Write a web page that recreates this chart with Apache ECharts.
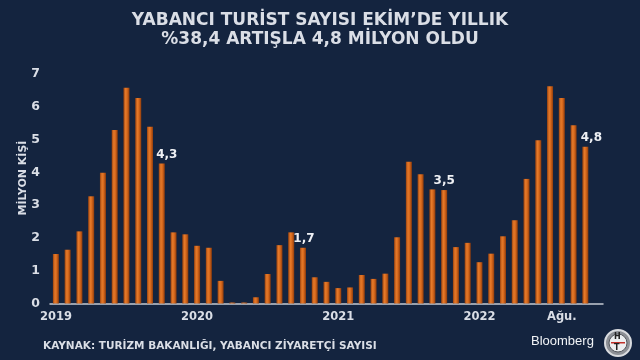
<!DOCTYPE html>
<html><head><meta charset="utf-8">
<script src="https://cdn.jsdelivr.net/npm/echarts@6/dist/echarts.min.js"></script>
<style>html,body{margin:0;padding:0;background:#14243f;}#c{width:640px;height:360px;}</style>
</head><body><div id="c"></div>
<script>
// Monthly categories Jan 2019 .. Oct 2022 (+ one empty slot)
const months = [
 '2019-01','2019-02','2019-03','2019-04','2019-05','2019-06','2019-07','2019-08','2019-09','2019-10','2019-11','2019-12',
 '2020-01','2020-02','2020-03','2020-04','2020-05','2020-06','2020-07','2020-08','2020-09','2020-10','2020-11','2020-12',
 '2021-01','2021-02','2021-03','2021-04','2021-05','2021-06','2021-07','2021-08','2021-09','2021-10','2021-11','2021-12',
 '2022-01','2022-02','2022-03','2022-04','2022-05','2022-06','2022-07','2022-08','2022-09','2022-10','2022-11'
];
// Foreign visitors, million people
const visitors = [
 1.51,1.64,2.20,3.27,3.99,5.29,6.58,6.27,5.39,4.27,2.17,2.11,
 1.76,1.70,0.69,0.03,0.03,0.19,0.90,1.78,2.17,1.70,0.80,0.66,
 0.47,0.49,0.87,0.75,0.91,2.02,4.32,3.94,3.48,3.46,1.72,1.85,
 1.26,1.52,2.05,2.54,3.80,4.98,6.63,6.27,5.44,4.78,null
];
// Tick labels on the category axis
const tickLabels = {'2019-01':'2019','2020-01':'2020','2021-01':'2021','2022-01':'2022','2022-08':'Ağu.'};
const yTicks = [0,1,2,3,4,5,6,7];
const yName = 'MİLYON KİŞİ';
// Bars that carry a value label
const labelled = {'2019-10':5,'2020-10':1,'2021-10':0,'2022-10':6};

const txt = '#dadee6';
const barGrad = new echarts.graphic.LinearGradient(0,0,1,0,[
  {offset:0,color:'#9c430e'},{offset:0.35,color:'#e57a2a'},{offset:0.6,color:'#d96a1d'},{offset:1,color:'#8f3c0c'}
]);

const data = visitors.map((v,i)=>{
  const m = months[i];
  const item = {value:v};
  if (m in labelled) {
    item.label = {show:true, position:'top', distance:3, offset:[labelled[m],0],
      formatter: p => p.value.toFixed(1).replace('.',','),
      color:'#eef0f4', fontWeight:'bold', fontSize:12, fontFamily:'DejaVu Sans'};
  }
  return item;
});

const chart = echarts.init(document.getElementById('c'), null, {renderer:'canvas'});
chart.setOption({
  backgroundColor:'#14243f',
  animation:false,
  title:{
    text:'YABANCI TURİST SAYISI EKİM’DE YILLIK\n%38,4 ARTIŞLA 4,8 MİLYON OLDU',
    left:'center', top:6,
    textStyle:{color:txt, fontSize:17, fontWeight:'bold', fontFamily:'DejaVu Sans', lineHeight:19}
  },
  grid:{left:50, right:37, top:74, bottom:56.5, containLabel:false},
  xAxis:{
    type:'category', data:months, boundaryGap:true,
    axisLine:{lineStyle:{color:'#c5cad3', width:1.5}},
    axisTick:{show:false},
    axisLabel:{
      interval:0,
      formatter:v=>tickLabels[v]||'',
      color:txt, fontWeight:'bold', fontSize:11.5, fontFamily:'DejaVu Sans', margin:8
    }
  },
  yAxis:{
    type:'value', min:yTicks[0], max:yTicks[yTicks.length-1], interval:1,
    axisLine:{show:false}, axisTick:{show:false}, splitLine:{show:false},
    axisLabel:{color:txt, fontWeight:'bold', fontSize:12.5, fontFamily:'DejaVu Sans', margin:10}
  },
  series:[{
    type:'bar', data:data, barWidth:6,
    itemStyle:{color:barGrad}
  }],
  graphic:[
    {type:'text', x:23, y:178, rotation:Math.PI/2,
      style:{text:yName, fill:txt, font:'bold 11px "DejaVu Sans"', align:'center', verticalAlign:'middle'}},
    {type:'text', left:43, top:341, style:{text:'KAYNAK: TURİZM BAKANLIĞI, YABANCI ZİYARETÇİ SAYISI',
      fill:txt, font:'bold 10.5px "DejaVu Sans"'}},
    {type:'text', left:531, top:335, style:{text:'Bloomberg', fill:'#f2f4f7', font:'13px "Liberation Sans Narrow", "Liberation Sans"'}},
    {type:'circle', shape:{cx:618, cy:343, r:13}, style:{fill:'#8d9096', stroke:'#d9dbdf', lineWidth:2}},
    {type:'circle', shape:{cx:618, cy:343, r:9}, style:{fill:'#eceef0', stroke:'#55585e', lineWidth:1}},
    {type:'text', left:614, top:333, style:{text:'H', fill:'#222', font:'bold 8px "DejaVu Sans"'}},
    {type:'rect', shape:{x:611, y:342, width:14, height:1.5}, style:{fill:'#c0302a'}},
    {type:'text', left:614, top:344, style:{text:'T', fill:'#222', font:'bold 8px "DejaVu Sans"'}}
  ]
});
</script></body></html>
